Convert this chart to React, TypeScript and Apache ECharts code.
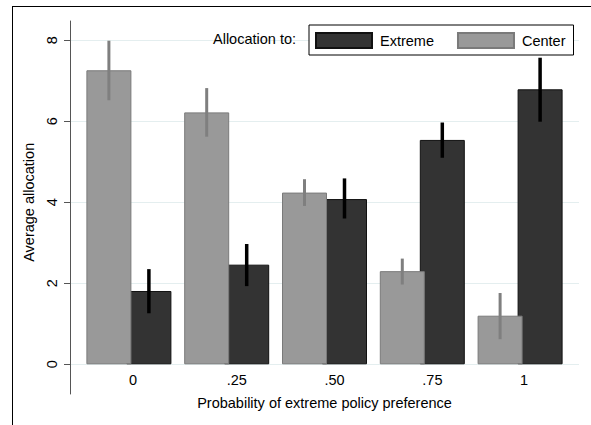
import React, { useEffect, useRef } from "react";
import * as echarts from "echarts";

const categories = ["0", ".25", ".50", ".75", "1"];
const centerMean = [7.26, 6.22, 4.24, 2.3, 1.2];
const centerLo = [6.52, 5.62, 3.91, 1.97, 0.62];
const centerHi = [7.99, 6.82, 4.57, 2.61, 1.76];
const extremeMean = [1.81, 2.46, 4.08, 5.54, 6.79];
const extremeLo = [1.26, 1.93, 3.6, 5.1, 5.99];
const extremeHi = [2.35, 2.97, 4.59, 5.97, 7.57];

const FONT = "Liberation Sans, Arial, Helvetica, sans-serif";
const BAR_W = 45;
const BAR_GAP = -5;
const OFF = (BAR_W + BAR_GAP) / 2;

function errRender(offset: number, color: string, width: number) {
  return (params: any, api: any) => {
    const a = api.coord([api.value(0), api.value(1)]);
    const b = api.coord([api.value(0), api.value(2)]);
    return {
      type: "line",
      shape: { x1: a[0] + offset, y1: a[1], x2: b[0] + offset, y2: b[1] },
      style: { stroke: color, lineWidth: width },
    };
  };
}

export default function App() {
  const ref = useRef<HTMLDivElement>(null);
  useEffect(() => {
    if (!ref.current) return;
    const chart = echarts.init(ref.current, null, { renderer: "svg" });
    chart.setOption({
      animation: false,
      backgroundColor: "transparent",
      textStyle: { fontFamily: FONT },
      title: {
        text: "Allocation to:",
        left: 213,
        top: 31,
        padding: 0,
        textStyle: { fontSize: 14.5, fontWeight: "normal", color: "#000", fontFamily: FONT },
      },
      legend: {
        data: ["Extreme", "Center"],
        left: 309,
        top: 25,
        padding: [7, 8, 6, 6],
        borderColor: "#000",
        borderWidth: 1,
        backgroundColor: "#fff",
        itemWidth: 56,
        itemHeight: 15,
        itemGap: 23,
        icon: "rect",
        textStyle: { fontSize: 14.5, color: "#000", fontFamily: FONT, padding: [0, 0, 0, 3] },
      },
      grid: [
        { left: 70, right: 12, top: 40.3, bottom: 60.7 },
        { left: 80, right: 22, top: 40.3, bottom: 60.7 },
        { left: 70, right: 12, top: 21, bottom: 31 },
      ],
      xAxis: [
        { type: "value", gridIndex: 0, show: false },
        {
          type: "category",
          gridIndex: 1,
          data: categories,
          axisLine: { show: false },
          axisTick: { show: false },
          axisLabel: { align: "left", margin: 8, fontSize: 14.5, color: "#000", fontFamily: FONT },
          name: "Probability of extreme policy preference",
          nameLocation: "middle",
          nameGap: 31,
          nameTextStyle: { fontSize: 14.5, color: "#000", fontFamily: FONT },
        },
        { type: "value", gridIndex: 2, show: false },
      ],
      yAxis: [
        {
          type: "value",
          gridIndex: 0,
          min: 0,
          max: 8,
          interval: 2,
          axisLine: { show: false },
          axisTick: { show: true, length: 6, lineStyle: { color: "#555" } },
          axisLabel: { rotate: 90, margin: 11, fontSize: 14.5, color: "#000", fontFamily: FONT },
          splitLine: { show: true, lineStyle: { color: "#e4eeef", width: 1 } },
          name: "Average allocation",
          nameLocation: "middle",
          nameGap: 27,
          nameTextStyle: { fontSize: 14.5, color: "#000", fontFamily: FONT },
        },
        { type: "value", gridIndex: 1, min: 0, max: 8, show: false },
        {
          type: "value",
          gridIndex: 2,
          min: 0,
          max: 1,
          axisLine: { show: true, lineStyle: { color: "#555", width: 1 } },
          axisTick: { show: false },
          axisLabel: { show: false },
          splitLine: { show: false },
        },
      ],
      series: [
        {
          name: "Center",
          type: "bar",
          xAxisIndex: 1,
          yAxisIndex: 1,
          data: centerMean,
          barWidth: BAR_W,
          barGap: `${(BAR_GAP / BAR_W) * 100}%`,
          z: 3,
          itemStyle: { color: "#999999", borderColor: "#7a7a7a", borderWidth: 1 },
        },
        {
          name: "Extreme",
          type: "bar",
          xAxisIndex: 1,
          yAxisIndex: 1,
          data: extremeMean,
          barWidth: BAR_W,
          z: 2,
          itemStyle: { color: "#333333", borderColor: "#111111", borderWidth: 1 },
        },
        {
          name: "Center CI",
          type: "custom",
          xAxisIndex: 1,
          yAxisIndex: 1,
          z: 5,
          encode: { x: 0, y: [1, 2] },
          data: categories.map((_, i) => [i, centerLo[i], centerHi[i]]),
          renderItem: errRender(-OFF, "#7f7f7f", 3),
        },
        {
          name: "Extreme CI",
          type: "custom",
          xAxisIndex: 1,
          yAxisIndex: 1,
          z: 5,
          encode: { x: 0, y: [1, 2] },
          data: categories.map((_, i) => [i, extremeLo[i], extremeHi[i]]),
          renderItem: errRender(OFF, "#000000", 3.5),
        },
      ],
    });
    return () => chart.dispose();
  }, []);
  return (
    <div style={{ position: "absolute", left: 0, top: 0, width: 591, height: 425, background: "#fff", overflow: "hidden" }}>
      <div
        style={{
          position: "absolute",
          left: 12,
          top: 6,
          width: 700,
          height: 600,
          borderTop: "1px solid #000",
          borderLeft: "1px solid #000",
        }}
      />
      <div ref={ref} style={{ position: "absolute", left: 0, top: 0, width: 591, height: 425 }} />
    </div>
  );
}
